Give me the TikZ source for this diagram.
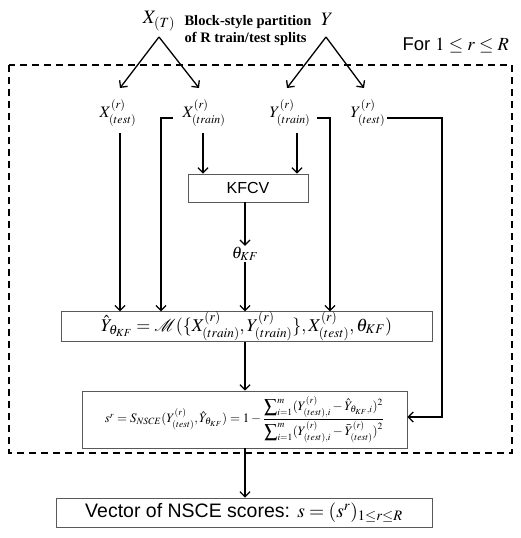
\documentclass[tikz,border=0pt]{standalone}
\usepackage{amsmath}
\usepackage{mathptmx}
\usepackage{mathrsfs}
\usepackage[no-math]{fontspec}
\setmainfont{Liberation Serif}
\setsansfont{Liberation Sans}
\usetikzlibrary{arrows.meta,calc}
\begin{document}
\begin{tikzpicture}[x=1pt,y=-1pt,
  arr/.style={line width=1.3pt,-{Straight Barb[length=5pt,width=10pt]}},
  box/.style={draw=black!65,line width=0.8pt,inner sep=0pt,rectangle,fill=white},
  lab/.style={font=\fontsize{16}{18}\selectfont,inner sep=0pt}]
\useasboundingbox (0,0) rectangle (521,538);
% top
\node[inner sep=0pt,font=\fontsize{19}{22}\selectfont] (XT) at (159,21) {$X_{(T)}$};
\node[inner sep=0pt,font=\fontsize{19}{22}\selectfont] (Y) at (327,19) {$Y$};
\node[inner sep=0pt,align=left,font=\bfseries\fontsize{14.5}{17}\selectfont] (part) at (248,31) {Block-style partition\\of R train/test splits};
\node[inner sep=0pt,anchor=east,font=\sffamily\fontsize{18.5}{20}\selectfont] (for) at (509,45) {For $1\le r\le R$};
% dashed frame
\draw[dashed,line width=1.6pt,dash pattern=on 7pt off 5pt] (9,65) rectangle (512,453);
% labels
\node[lab] (Xtest) at (118,113) {$X^{(r)}_{(test)}$};
\node[lab] (Xtrain) at (204,113) {$X^{(r)}_{(train)}$};
\node[lab] (Ytrain) at (290,113) {$Y^{(r)}_{(train)}$};
\node[lab] (Ytest) at (368,113) {$Y^{(r)}_{(test)}$};
\coordinate (xa) at (159,37);
\coordinate (ya) at (326,37);
\coordinate (xt1) at (120,88);
\coordinate (xt2) at (199,88);
\coordinate (yt1) at (287,88);
\coordinate (yt2) at (364,88);
\draw[arr] (xa) -- (xt1);
\draw[arr] (xa) -- (xt2);
\draw[arr] (ya) -- (yt1);
\draw[arr] (ya) -- (yt2);
% boxes
\node[box,minimum width=120pt,minimum height=28pt,font=\sffamily\fontsize{16}{18}\selectfont] (kfcv) at (248,188) {KFCV};
\node[inner sep=1pt,font=\fontsize{16.5}{18}\selectfont] (theta) at (245,254) {$\theta_{KF}$};
\node[box,minimum width=371pt,minimum height=29pt,font=\fontsize{18}{20}\selectfont] (yhat) at (246.5,326.5) {$\hat Y_{\theta_{KF}} = \mathscr{M}(\{X^{(r)}_{(train)}, Y^{(r)}_{(train)}\}, X^{(r)}_{(test)}, \theta_{KF})$};
\node[box,minimum width=325pt,minimum height=57pt,font=\fontsize{12.9}{15}\selectfont] (sr) at (244.5,419.5) {$s^r = S_{NSCE}(Y^{(r)}_{(test)}, \hat Y_{\theta_{KF}}) = 1 - \dfrac{\displaystyle\sum\nolimits_{i=1}^m (Y^{(r)}_{(test),i} - \hat Y_{\theta_{KF},i})^2}{\displaystyle\sum\nolimits_{i=1}^m (Y^{(r)}_{(test),i} - \bar Y^{(r)}_{(test)})^2}$};
\node[box,minimum width=376pt,minimum height=29pt,font=\sffamily\fontsize{19.5}{22}\selectfont] (vec) at (244,512.5) {Vector of NSCE scores: $s=(s^r)_{1\le r\le R}$};
% connectors
\coordinate (c1) at (120,133);
\draw[arr] (c1) -- (c1 |- yhat.north);
\coordinate (c2) at (173,118);
\draw[arr] (c2) -| ($(yhat.north)+(-85.5,0)$);
\coordinate (c3) at (203,133);
\draw[arr] (c3) -- (c3 |- kfcv.north);
\coordinate (c4) at (297,133);
\draw[arr] (c4) -- (c4 |- kfcv.north);
\coordinate (c5) at (317,118);
\draw[arr] (c5) -| ($(yhat.north)+(83.5,0)$);
\coordinate (c6) at (387,118);
\draw[arr] (c6) -| (442,417) -- (sr.east |- 0,417);
\draw[arr] (kfcv.south -| theta) -- (theta.north);
\draw[arr] (theta.south) -- (theta |- yhat.north);
\draw[arr] (yhat.south -| theta) -- (theta |- sr.north);
\draw[arr] (sr.south -| theta) -- (theta |- vec.north);
\end{tikzpicture}
\end{document}
